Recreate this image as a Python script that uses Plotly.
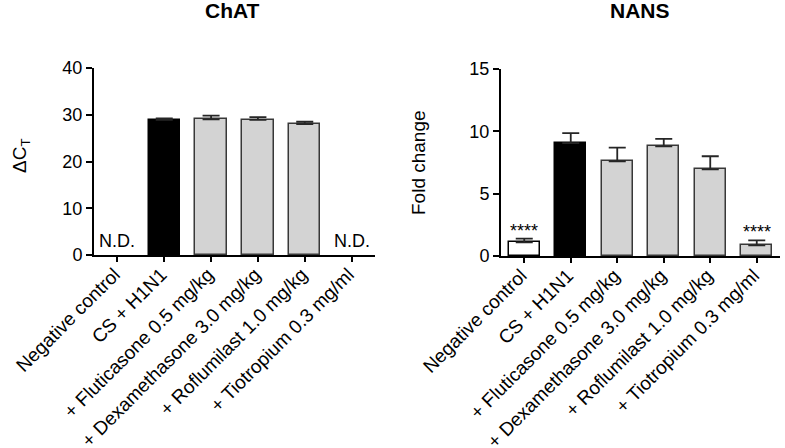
import plotly.graph_objects as go

categories = ["Negative control", "CS + H1N1", "+ Fluticasone 0.5 mg/kg",
              "+ Dexamethasone 3.0 mg/kg", "+ Roflumilast 1.0 mg/kg",
              "+ Tiotropium 0.3 mg/ml"]
chat_mean = [None, 28.9, 29.0, 28.9, 28.0, None]
chat_err = [0, 0.3, 0.8, 0.6, 0.5, 0]
chat_labels = ["N.D.", "", "", "", "", "N.D."]
nans_mean = [1.1, 9.05, 7.6, 8.8, 6.95, 0.85]
nans_err = [0.3, 0.8, 1.1, 0.6, 1.05, 0.4]
nans_sig = ["****", "", "", "", "", "****"]

fills = ["white", "black", "#d3d3d3", "#d3d3d3", "#d3d3d3", "#d3d3d3"]
outlines = ["black", "black", "#383838", "#383838", "#383838", "#383838"]
FONT = "Liberation Sans, Arial, sans-serif"
W, H = 785, 448
xpos = list(range(len(categories)))


def px(x):
    return x / W


def py(y):
    return 1 - y / H


fig = go.Figure()
for vals, errs, xa, ya in [(chat_mean, chat_err, "x", "y"), (nans_mean, nans_err, "x2", "y2")]:
    fig.add_trace(go.Bar(
        x=xpos, y=vals, xaxis=xa, yaxis=ya, width=0.67,
        marker=dict(color=fills, line=dict(color=outlines, width=1.5)),
        error_y=dict(type="data", symmetric=False, array=errs,
                     arrayminus=[0] * len(errs), color="#262626",
                     thickness=1.8, width=8.5),
        showlegend=False, hoverinfo="skip"))

axis_common = dict(showline=True, linecolor="black", linewidth=2, ticks="outside",
                   ticklen=6, tickwidth=2, tickcolor="black", showgrid=False,
                   zeroline=False, automargin=False,
                   tickfont=dict(family=FONT, size=18, color="black"))
xcommon = dict(axis_common, tickmode="array", tickvals=xpos, ticktext=categories,
               tickangle=-45, range=[-0.5, 5.5], ticklen=5, ticklabelstandoff=-6,
               ticklabelshift=-3,
               tickfont=dict(family=FONT, size=19, color="black"))

fig.update_layout(
    width=W, height=H, margin=dict(l=0, r=0, t=0, b=0, autoexpand=False),
    paper_bgcolor="white", plot_bgcolor="white",
    font=dict(family=FONT, color="black"),
    xaxis=dict(xcommon, domain=[px(94), px(375)], anchor="y"),
    yaxis=dict(axis_common, domain=[py(255), py(68)], range=[0, 40], dtick=10, anchor="x"),
    xaxis2=dict(xcommon, domain=[px(501), px(780)], anchor="y2"),
    yaxis2=dict(axis_common, domain=[py(256), py(69)], range=[0, 15], dtick=5, anchor="x2"),
    bargap=0,
)

ann = [
    dict(text="<b>ChAT</b>", x=px(232), y=py(11), xref="paper", yref="paper",
         xanchor="center", yanchor="middle", showarrow=False, font=dict(size=21)),
    dict(text="<b>NANS</b>", x=px(640), y=py(11), xref="paper", yref="paper",
         xanchor="center", yanchor="middle", showarrow=False, font=dict(size=21)),
    dict(text="ΔC<sub>T</sub>", textangle=-90, x=px(21), y=py(156),
         xref="paper", yref="paper", xanchor="center", yanchor="middle",
         showarrow=False, font=dict(size=19)),
    dict(text="Fold change", textangle=-90, x=px(418), y=py(163),
         xref="paper", yref="paper", xanchor="center", yanchor="middle",
         showarrow=False, font=dict(size=19)),
]
for i, lab in enumerate(chat_labels):
    if lab:
        ann.append(dict(text=lab, x=i, y=0, xref="x", yref="y", yanchor="bottom",
                        xanchor="center", yshift=2, showarrow=False, font=dict(size=18)))
for i, lab in enumerate(nans_sig):
    if lab:
        ann.append(dict(text=lab, x=i, y=nans_mean[i] + nans_err[i], xref="x2", yref="y2",
                        xanchor="center", yanchor="middle", yshift=8, showarrow=False,
                        font=dict(size=18)))
fig.update_layout(annotations=ann)

fig.write_html("out.html", config={"displayModeBar": False},
               post_script="document.body.style.margin='0';document.body.style.overflow='hidden';")
